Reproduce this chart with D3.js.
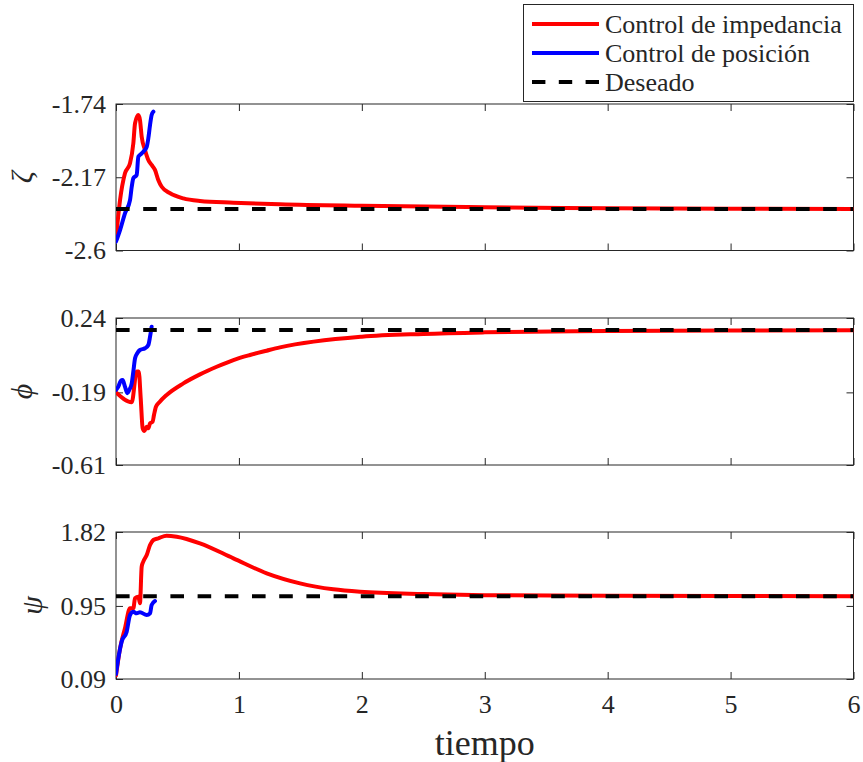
<!DOCTYPE html>
<html><head><meta charset="utf-8"><script src="https://cdn.jsdelivr.net/npm/d3@7"></script></head>
<body style="margin:0">
<svg id="chart" width="863" height="762" font-family='"Liberation Serif"'></svg>
<script>
// ---------------- DATA ----------------
const legendLabels = ["Control de impedancia", "Control de posición", "Deseado"];
const xTickValues = [0, 1, 2, 3, 4, 5, 6];
const xLabel = "tiempo";

// zeta (top)
const zetaTicks = [-2.6, -2.17, -1.74];
const zetaImpT = [0, 0.033, 0.073, 0.114, 0.141, 0.155, 0.182, 0.195, 0.209, 0.236, 0.263, 0.29, 0.317, 0.344, 0.372, 0.44, 0.548, 0.683, 0.955, 1.334, 2, 3, 4, 5, 6];
const zetaImpV = [-2.53, -2.304, -2.147, -2.088, -1.971, -1.853, -1.805, -1.834, -1.932, -2.010, -2.069, -2.098, -2.127, -2.186, -2.226, -2.264, -2.294, -2.309, -2.319, -2.329, -2.338, -2.346, -2.352, -2.355, -2.356];
const zetaPosT = [0, 0.033, 0.073, 0.114, 0.128, 0.141, 0.168, 0.182, 0.195, 0.222, 0.25, 0.263, 0.277, 0.29, 0.304];
const zetaPosV = [-2.548, -2.48, -2.382, -2.304, -2.226, -2.176, -2.157, -2.049, -2.039, -2.02, -1.991, -1.941, -1.863, -1.805, -1.785];
const zetaDes = -2.356;

// phi (middle)
const phiTicks = [-0.61, -0.19, 0.24];
const phiImpT = [0, 0.128, 0.168, 0.185, 0.201, 0.217, 0.231, 0.25, 0.263, 0.277, 0.298, 0.309, 0.325, 0.353, 0.412, 0.548, 0.683, 0.819, 0.955, 1.09, 1.226, 1.334, 2, 2.5, 3, 4, 5, 6];
const phiImpV = [-0.190, -0.247, -0.070, -0.070, -0.224, -0.398, -0.413, -0.389, -0.398, -0.369, -0.360, -0.321, -0.273, -0.247, -0.205, -0.138, -0.086, -0.042, -0.003, 0.026, 0.051, 0.070, 0.132, 0.148, 0.157, 0.165, 0.168, 0.169];
const phiPosT = [0, 0.019, 0.038, 0.054, 0.073, 0.092, 0.108, 0.128, 0.141, 0.155, 0.173, 0.195, 0.236, 0.263, 0.277, 0.29];
const phiPosV = [-0.176, -0.157, -0.124, -0.119, -0.157, -0.195, -0.176, -0.138, -0.070, 0.007, 0.036, 0.055, 0.065, 0.084, 0.132, 0.19];
const phiDes = 0.17;

// psi (bottom)
const psiTicks = [0.09, 0.95, 1.82];
const psiImpT = [0, 0.033, 0.073, 0.114, 0.141, 0.155, 0.182, 0.195, 0.209, 0.222, 0.25, 0.277, 0.304, 0.344, 0.412, 0.494, 0.683, 0.955, 1.226, 1.497, 1.768, 1.985, 2.5, 3, 4, 5, 6];
const psiImpV = [0.13, 0.451, 0.687, 0.922, 0.922, 1.04, 1.059, 0.981, 1.412, 1.471, 1.549, 1.667, 1.726, 1.746, 1.777, 1.765, 1.687, 1.51, 1.334, 1.216, 1.146, 1.117, 1.09, 1.077, 1.069, 1.066, 1.065];
const psiPosT = [0, 0.019, 0.046, 0.087, 0.114, 0.141, 0.168, 0.195, 0.25, 0.277, 0.29, 0.317];
const psiPosV = [0.15, 0.334, 0.529, 0.647, 0.843, 0.882, 0.863, 0.875, 0.843, 0.863, 0.961, 1.008];
const psiDes = 1.065;

// ---------------- CHART ----------------
const FONT = '"Liberation Serif"';
const svg = d3.select("#chart");
const left = 116, right = 853.5;
const x = d3.scaleLinear().domain([0, 6]).range([left, right]);
const axisColor = "#262626";

const panels = [
  { top: 104, bottom: 250.5, ticks: zetaTicks, label: "ζ", labelX: 32,
    imp: [zetaImpT, zetaImpV], pos: [zetaPosT, zetaPosV], des: zetaDes, xlabels: false },
  { top: 318, bottom: 465, ticks: phiTicks, label: "ϕ", labelX: 32,
    imp: [phiImpT, phiImpV], pos: [phiPosT, phiPosV], des: phiDes, xlabels: false },
  { top: 532, bottom: 679, ticks: psiTicks, label: "ψ", labelX: 42,
    imp: [psiImpT, psiImpV], pos: [psiPosT, psiPosV], des: psiDes, xlabels: true }
];

const defs = svg.append("defs");

panels.forEach((p, i) => {
  const y = d3.scaleLinear().domain([p.ticks[0], p.ticks[p.ticks.length - 1]]).range([p.bottom, p.top]);
  const g = svg.append("g");

  defs.append("clipPath").attr("id", "clip" + i)
    .append("rect").attr("x", left).attr("y", p.top).attr("width", right - left).attr("height", p.bottom - p.top);

  const bottomAxis = d3.axisBottom(x).tickValues(xTickValues).tickSize(-7).tickSizeOuter(0).tickPadding(15.5)
    .tickFormat(p.xlabels ? d3.format("d") : () => "");
  const topAxis = d3.axisTop(x).tickValues(xTickValues).tickSize(-7).tickSizeOuter(0).tickFormat(() => "");
  const leftAxis = d3.axisLeft(y).tickValues(p.ticks).tickSize(-7).tickSizeOuter(0).tickPadding(10)
    .tickFormat(d => String(d));
  const rightAxis = d3.axisRight(y).tickValues(p.ticks).tickSize(-7).tickSizeOuter(0).tickFormat(() => "");

  const ga = [
    g.append("g").attr("transform", `translate(0,${p.bottom})`).call(bottomAxis),
    g.append("g").attr("transform", `translate(0,${p.top})`).call(topAxis),
    g.append("g").attr("transform", `translate(${left},0)`).call(leftAxis),
    g.append("g").attr("transform", `translate(${right},0)`).call(rightAxis)
  ];
  ga.forEach(a => {
    a.attr("font-family", FONT).attr("font-size", 26);
    a.select(".domain").remove();
    a.selectAll(".tick line").attr("stroke", axisColor).attr("stroke-width", 1);
    a.selectAll(".tick text").attr("fill", axisColor);
  });

  g.append("rect").attr("x", left).attr("y", p.top).attr("width", right - left).attr("height", p.bottom - p.top)
    .attr("fill", "none").attr("stroke", axisColor).attr("stroke-width", 1);

  svg.append("text")
    .attr("transform", `translate(${p.labelX},${(p.top + p.bottom) / 2}) rotate(-90)`)
    .attr("text-anchor", "middle")
    .attr("font-family", FONT).attr("font-size", 30).attr("font-style", "italic")
    .attr("fill", axisColor)
    .text(p.label);

  const line = d3.line().x(d => x(d[0])).y(d => y(d[1])).curve(d3.curveMonotoneX);
  const lg = svg.append("g").attr("clip-path", `url(#clip${i})`);

  const impData = p.imp[0].map((t, k) => [t, p.imp[1][k]]);
  const posData = p.pos[0].map((t, k) => [t, p.pos[1][k]]);
  lg.append("path").datum(impData).attr("d", line)
    .attr("fill", "none").attr("stroke", "#ff0000").attr("stroke-width", 4)
    .attr("stroke-linejoin", "round").attr("stroke-linecap", "round");
  lg.append("path").datum(posData).attr("d", line)
    .attr("fill", "none").attr("stroke", "#0000ff").attr("stroke-width", 4)
    .attr("stroke-linejoin", "round").attr("stroke-linecap", "round");
  lg.append("path").datum([[0, p.des], [6, p.des]]).attr("d", d3.line().x(d => x(d[0])).y(d => y(d[1])))
    .attr("fill", "none").attr("stroke", "#000").attr("stroke-width", 4)
    .attr("stroke-dasharray", "13.6,13.6");
});

svg.append("text").attr("x", (left + right) / 2).attr("y", 755).attr("text-anchor", "middle")
  .attr("font-family", FONT).attr("font-size", 36).attr("fill", axisColor).text(xLabel);

const lgd = svg.append("g");
lgd.append("rect").attr("x", 523.5).attr("y", 4.5).attr("width", 330).attr("height", 97)
  .attr("fill", "#fff").attr("stroke", axisColor).attr("stroke-width", 1);
const legendColors = ["#ff0000", "#0000ff", "#000000"];
const legendDash = [null, null, "13.4,13.4"];
const legendY = [24, 53, 82];
legendLabels.forEach((lab, k) => {
  lgd.append("line").attr("x1", 532).attr("x2", 599).attr("y1", legendY[k]).attr("y2", legendY[k])
    .attr("stroke", legendColors[k]).attr("stroke-width", 4)
    .attr("stroke-dasharray", legendDash[k]);
  lgd.append("text").attr("x", 605).attr("y", legendY[k] + 9)
    .attr("font-family", FONT).attr("font-size", 26).attr("fill", axisColor).text(lab);
});
</script>
</body>
</html>
